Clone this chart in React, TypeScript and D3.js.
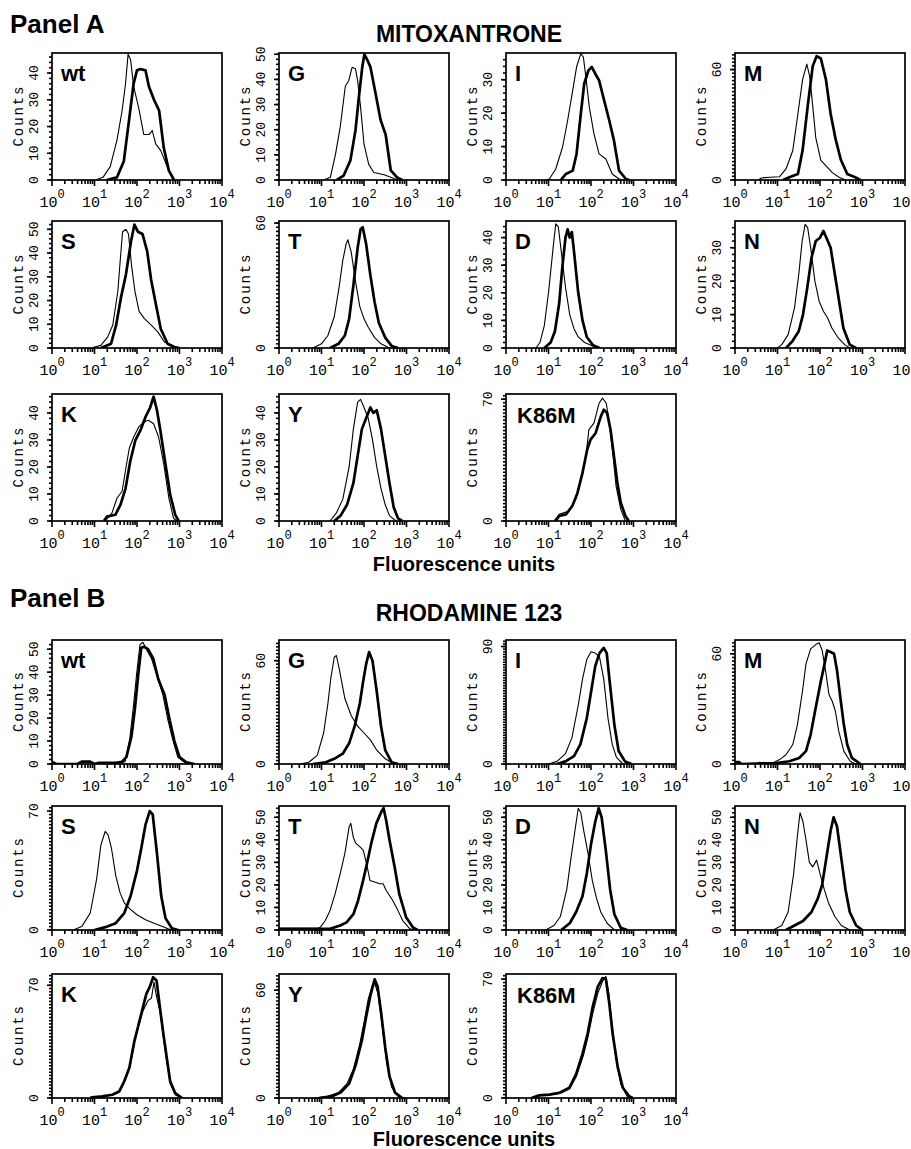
import * as d3 from "d3";
import React from "react";

type Pt = [number, number]; // [log10 fluorescence, counts]

// ---------- Panel A : mitoxantrone ----------
const A_WT_THIN: Pt[] = [[1.02,0],[1.2,1],[1.37,5],[1.53,15],[1.65,26],[1.73,36],[1.79,47],[1.85,45],[1.92,35],[2.04,27],[2.16,17],[2.28,17],[2.36,18.5],[2.44,13.5],[2.56,11],[2.71,5],[2.87,0]];
const A_WT_THICK: Pt[] = [[1.29,0],[1.53,1],[1.69,7],[1.81,22],[1.92,36],[2.0,41],[2.08,41.5],[2.2,41],[2.28,35],[2.4,30],[2.52,26],[2.63,12],[2.75,3.5],[2.87,0]];
const A_G_THIN: Pt[] = [[1.05,0],[1.21,1.1],[1.33,10.3],[1.44,21],[1.52,31.8],[1.56,37.3],[1.64,39.5],[1.72,44.8],[1.8,44.2],[1.85,39.5],[1.92,29],[2.0,14.3],[2.11,6.3],[2.23,3],[2.47,2.1],[2.63,1.1],[2.79,0]];
const A_G_THICK: Pt[] = [[1.36,0],[1.52,1.7],[1.68,7.8],[1.8,19.8],[1.88,33],[1.96,45],[2.01,50],[2.07,48],[2.15,45],[2.27,34.6],[2.39,23.9],[2.51,18],[2.63,3.8],[2.78,1],[2.9,0]];
const A_I_THIN: Pt[] = [[0.95,0],[1.02,0.3],[1.17,3.3],[1.33,9.8],[1.45,17.8],[1.57,26.8],[1.66,33.8],[1.76,37.8],[1.82,36.8],[1.88,30.8],[1.96,21.8],[2.07,13.8],[2.19,7.8],[2.35,6.3],[2.5,1.8],[2.66,0.3],[2.75,0]];
const A_I_THICK: Pt[] = [[1.29,0],[1.41,1.8],[1.57,2.8],[1.66,7.8],[1.76,19.8],[1.84,28.8],[1.94,32.8],[2.02,33.8],[2.1,31.8],[2.19,29.8],[2.31,23.8],[2.43,17.8],[2.54,11.8],[2.66,2.8],[2.82,0.3],[2.9,0]];
const A_M_THIN: Pt[] = [[0.55,0],[0.62,1.1],[0.82,1.5],[1.05,1.8],[1.2,6],[1.36,16],[1.48,36],[1.59,54.5],[1.69,63],[1.76,56],[1.83,40],[1.9,23],[2.02,10.6],[2.17,7],[2.29,4],[2.45,1.5],[2.6,0]];
const A_M_THICK: Pt[] = [[1.13,0],[1.28,1.5],[1.48,3.3],[1.59,16],[1.71,40],[1.83,62],[1.92,67.3],[2.02,66],[2.14,54.5],[2.25,36],[2.37,21.9],[2.49,11],[2.64,3.3],[2.83,1.5],[2.95,0]];
const A_S_THIN: Pt[] = [[0.95,0],[1.0,0.4],[1.15,1.1],[1.31,4.7],[1.43,9.7],[1.55,24],[1.61,38],[1.66,49],[1.74,50],[1.8,48],[1.87,35],[1.95,24],[2.05,15.4],[2.17,12.5],[2.33,9.7],[2.49,6.8],[2.64,2.6],[2.88,0]];
const A_S_THICK: Pt[] = [[1.15,0],[1.39,1.8],[1.51,9.7],[1.62,21],[1.74,31],[1.86,45],[1.94,52],[2.02,49],[2.13,48],[2.24,40.7],[2.33,29],[2.45,17.9],[2.56,8],[2.72,1.8],[2.88,0.4],[3.0,0]];
const A_T_THIN: Pt[] = [[0.8,0],[1.0,2],[1.15,6],[1.3,15],[1.42,30],[1.5,42],[1.58,50],[1.62,52],[1.7,46],[1.8,32],[1.9,20],[2.0,14],[2.1,10],[2.25,5],[2.4,2],[2.6,0]];
const A_T_THICK: Pt[] = [[1.2,0],[1.4,2],[1.55,6],[1.65,14],[1.75,30],[1.85,48],[1.92,57],[1.97,58],[2.05,50],[2.15,35],[2.25,22],[2.35,12],[2.5,5],[2.65,1],[2.8,0]];
const A_D_THIN: Pt[] = [[0.7,0],[0.8,2],[0.9,8],[1.0,20],[1.1,35],[1.17,45],[1.23,44],[1.3,35],[1.4,22],[1.5,12],[1.6,7],[1.7,4],[1.85,2],[2.0,1],[2.15,0]];
const A_D_THICK: Pt[] = [[0.9,0],[1.05,2],[1.15,6],[1.25,16],[1.33,30],[1.4,40],[1.45,43],[1.5,40],[1.55,42],[1.6,35],[1.7,20],[1.8,10],[1.9,4],[2.05,1],[2.2,0]];
const A_N_THIN: Pt[] = [[1.0,0],[1.1,1],[1.25,4],[1.4,12],[1.5,22],[1.58,32],[1.65,37],[1.71,36],[1.78,30],[1.88,20],[1.98,14],[2.08,11],[2.18,9],[2.28,6],[2.43,3],[2.58,1],[2.7,0]];
const A_N_THICK: Pt[] = [[1.2,0],[1.35,2],[1.5,5],[1.6,10],[1.7,18],[1.8,27],[1.9,32],[2.0,33],[2.08,35],[2.15,33],[2.25,30],[2.35,22],[2.45,14],[2.55,6],[2.7,1],[2.85,0]];
const A_K_THIN: Pt[] = [[1.25,0],[1.41,2.9],[1.53,8.5],[1.65,11],[1.74,19.8],[1.82,27],[1.92,31],[2.04,34.8],[2.16,36.6],[2.27,37.3],[2.39,36],[2.51,31],[2.63,21],[2.75,8.5],[2.86,1],[2.94,0]];
const A_K_THICK: Pt[] = [[1.22,0],[1.29,1.6],[1.49,2.3],[1.61,6],[1.73,12],[1.84,22],[1.96,29.8],[2.08,33.5],[2.2,38.5],[2.31,42],[2.39,46],[2.47,41],[2.55,33.5],[2.67,21],[2.78,9.8],[2.9,2.3],[2.98,0]];
const A_Y_THIN: Pt[] = [[1.2,0],[1.35,3],[1.5,8],[1.65,20],[1.75,34],[1.85,44],[1.92,45],[2.0,42],[2.1,38],[2.2,30],[2.3,20],[2.4,12],[2.5,6],[2.6,2],[2.75,0]];
const A_Y_THICK: Pt[] = [[1.3,0],[1.45,2],[1.6,6],[1.75,14],[1.85,24],[1.95,34],[2.05,38],[2.15,42],[2.22,40],[2.3,41],[2.4,34],[2.5,24],[2.6,14],[2.7,5],[2.8,1],[2.9,0]];
const A_K86M_THIN: Pt[] = [[1.13,0],[1.25,3.8],[1.48,5.7],[1.64,12.4],[1.76,23.8],[1.88,37.2],[1.95,52.5],[2.07,56.3],[2.19,67.7],[2.27,70.6],[2.36,67.7],[2.44,54.4],[2.52,37.2],[2.59,20],[2.7,6.7],[2.81,0]];
const A_K86M_THICK: Pt[] = [[1.17,0],[1.25,2.9],[1.41,3.8],[1.56,8.6],[1.68,16],[1.8,27.7],[1.91,41],[1.99,46.8],[2.11,50.6],[2.23,60],[2.3,64],[2.38,62],[2.46,52.5],[2.54,37.2],[2.62,22],[2.7,10.5],[2.81,2.9],[2.89,0]];

// ---------- Panel B : rhodamine 123 ----------
const B_WT_THIN: Pt[] = [[1.5,0],[1.72,1],[1.83,11],[1.91,24],[1.99,39],[2.07,52],[2.14,53],[2.22,50],[2.34,46],[2.46,39],[2.61,30],[2.73,19],[2.85,10],[2.96,3],[3.12,0.7],[3.25,0]];
const B_WT_THICK: Pt[] = [[0,1],[0.05,0.5],[0.1,0],[0.6,0],[0.7,1],[0.9,1],[1.0,0],[1.1,0.5],[1.5,0.5],[1.65,1],[1.75,3],[1.87,12],[1.95,24],[2.03,39],[2.1,50.7],[2.17,51],[2.26,50],[2.38,46],[2.5,37],[2.65,30],[2.77,19],[2.88,10],[3.0,3],[3.16,0.7],[3.35,0]];
const B_G_THIN: Pt[] = [[0.5,0],[0.7,1],[0.9,5],[1.05,18],[1.15,35],[1.22,50],[1.3,62],[1.35,63],[1.42,55],[1.55,38],[1.7,28],[1.85,22],[2.0,18],[2.15,14],[2.3,8],[2.5,3],[2.7,0]];
const B_G_THICK: Pt[] = [[0.8,0],[1.1,1],[1.3,3],[1.5,6],[1.65,12],[1.78,22],[1.9,35],[1.98,48],[2.05,58],[2.12,65],[2.2,60],[2.3,42],[2.4,22],[2.5,8],[2.65,1],[2.8,0]];
const B_I_THIN: Pt[] = [[1.0,0],[1.2,2],[1.4,8],[1.55,20],[1.7,45],[1.8,65],[1.9,80],[2.0,86],[2.1,85],[2.2,82],[2.3,65],[2.4,35],[2.5,15],[2.6,5],[2.75,0]];
const B_I_THICK: Pt[] = [[1.2,0],[1.4,2],[1.6,6],[1.75,15],[1.9,35],[2.0,55],[2.1,75],[2.2,85],[2.3,89],[2.37,85],[2.45,60],[2.55,30],[2.65,10],[2.8,2],[2.95,0]];
const B_M_THIN: Pt[] = [[0.5,0],[0.58,1],[0.7,0],[0.89,0.5],[1.05,2.4],[1.2,5],[1.36,10.6],[1.47,21.6],[1.59,40],[1.67,54.5],[1.78,62.7],[1.9,65],[1.98,66],[2.05,62],[2.13,51],[2.21,38],[2.29,34],[2.36,29],[2.44,18],[2.56,7],[2.71,1.5],[2.83,0]];
const B_M_THICK: Pt[] = [[0,1],[0.1,1],[0.15,0],[0.97,0.5],[1.28,1.5],[1.51,3.3],[1.67,7],[1.78,16],[1.9,30.7],[2.02,45],[2.09,52.6],[2.17,61.8],[2.25,61],[2.33,60],[2.4,51],[2.48,36],[2.56,21.6],[2.64,10.6],[2.75,3.3],[2.95,0]];
const B_S_THIN: Pt[] = [[0.5,0],[0.7,2],[0.9,10],[1.05,30],[1.15,50],[1.25,58],[1.32,56],[1.4,48],[1.5,32],[1.6,22],[1.7,16],[1.85,12],[2.0,9],[2.2,6],[2.4,4],[2.6,2],[2.8,0]];
const B_S_THICK: Pt[] = [[1.0,0],[1.3,2],[1.5,4],[1.7,10],[1.85,20],[2.0,35],[2.1,48],[2.2,62],[2.3,70],[2.37,68],[2.47,45],[2.57,20],[2.67,7],[2.82,1],[2.97,0]];
const B_T_THIN: Pt[] = [[0,0.7],[0.9,0.7],[0.97,1.2],[1.09,4.2],[1.2,8.6],[1.32,16],[1.44,25],[1.55,34],[1.65,45.8],[1.69,47.3],[1.75,41],[1.81,38.4],[1.9,37],[1.98,35.4],[2.06,29.5],[2.14,22],[2.25,21.3],[2.37,20.5],[2.45,20.5],[2.52,17.6],[2.68,13],[2.8,8.6],[2.91,4.2],[3.07,0.7],[3.18,0]];
const B_T_THICK: Pt[] = [[0,0.5],[1.2,0.5],[1.44,2],[1.59,3.4],[1.75,7],[1.86,13],[1.98,22],[2.07,29.5],[2.17,38.4],[2.29,47.3],[2.41,52.5],[2.46,54],[2.52,48.8],[2.6,39.9],[2.72,28],[2.83,16],[2.99,5.7],[3.15,1.2],[3.26,0]];
const B_D_THIN: Pt[] = [[0.93,0],[1.13,2],[1.28,6],[1.43,18],[1.53,32],[1.63,45],[1.7,54],[1.76,52],[1.83,44],[1.93,34],[2.03,22],[2.13,14],[2.23,8],[2.38,3],[2.55,0]];
const B_D_THICK: Pt[] = [[1.3,0],[1.5,3],[1.65,8],[1.8,15],[1.9,25],[2.0,38],[2.1,48],[2.18,54],[2.25,50],[2.35,35],[2.45,18],[2.55,7],[2.7,1],[2.85,0]];
const B_N_THIN: Pt[] = [[0.9,0],[1.1,2],[1.25,8],[1.38,25],[1.47,42],[1.53,52],[1.6,48],[1.67,40],[1.75,30],[1.83,28],[1.92,31],[2.0,25],[2.1,18],[2.2,12],[2.35,6],[2.5,2],[2.7,0]];
const B_N_THICK: Pt[] = [[1.2,0],[1.4,2],[1.6,4],[1.8,8],[1.95,14],[2.05,20],[2.15,32],[2.25,44],[2.32,50],[2.4,46],[2.5,32],[2.6,18],[2.7,8],[2.85,2],[3.0,0]];
const B_K_THIN: Pt[] = [[1.0,0],[1.2,1],[1.42,2],[1.6,4.5],[1.72,11],[1.84,20],[1.95,36],[2.04,45],[2.14,54],[2.26,60.5],[2.34,62],[2.4,72],[2.46,63],[2.54,54],[2.62,38],[2.7,23],[2.78,9],[2.9,2],[3.04,0]];
const B_K_THICK: Pt[] = [[0.9,0],[0.94,0.4],[1.18,1],[1.42,2],[1.58,4],[1.7,10.4],[1.82,18.8],[1.94,35.5],[2.02,43.8],[2.14,56.4],[2.22,64.7],[2.3,69],[2.38,75],[2.46,73],[2.54,56],[2.62,40],[2.7,25],[2.78,10.4],[2.9,3],[3.06,0]];
const B_Y_THIN: Pt[] = [[0.85,0],[1.15,1],[1.4,3],[1.6,8],[1.75,16],[1.9,30],[2.0,42],[2.1,55],[2.2,63],[2.25,64],[2.33,58],[2.43,40],[2.53,20],[2.65,6],[2.8,1],[2.95,0]];
const B_Y_THICK: Pt[] = [[0.95,0],[1.25,1],[1.45,3],[1.65,8],[1.8,18],[1.95,32],[2.05,45],[2.15,57],[2.25,66],[2.32,62],[2.4,48],[2.5,28],[2.6,12],[2.73,3],[2.9,0]];
const B_K86M_THIN: Pt[] = [[0.7,0],[0.8,1.5],[1.05,2],[1.3,3],[1.5,5.5],[1.66,13],[1.82,25],[1.93,36],[2.04,49.7],[2.16,61.6],[2.27,68.6],[2.35,71.6],[2.42,61.6],[2.49,43.7],[2.58,25],[2.7,8],[2.85,1],[2.95,0]];
const B_K86M_THICK: Pt[] = [[0.6,0],[0.78,1.6],[1.02,2],[1.25,3],[1.49,6],[1.65,14],[1.8,26],[1.92,37.8],[2.04,53.7],[2.16,65.6],[2.27,70.6],[2.35,70],[2.43,55.7],[2.51,37.8],[2.63,18],[2.75,6],[2.9,1],[2.98,0]];

// panel labels, y-axis max and labelled y ticks (row-major, 4 columns)
const LABELS = ["wt", "G", "I", "M", "S", "T", "D", "N", "K", "Y", "K86M"];
const A_YMAX = [47.5, 50.5, 38, 69, 53.5, 61, 46, 38, 47, 47, 73];
const A_YTICKS = [[0,10,20,30,40],[0,10,20,30,40,50],[0,10,20,30],[0,60],[0,10,20,30,40,50],[0,60],[0,10,20,30,40],[0,10,20,30],[0,10,20,30,40],[0,10,20,30,40],[0,70]];
const A_THIN = [A_WT_THIN, A_G_THIN, A_I_THIN, A_M_THIN, A_S_THIN, A_T_THIN, A_D_THIN, A_N_THIN, A_K_THIN, A_Y_THIN, A_K86M_THIN];
const A_THICK = [A_WT_THICK, A_G_THICK, A_I_THICK, A_M_THICK, A_S_THICK, A_T_THICK, A_D_THICK, A_N_THICK, A_K_THICK, A_Y_THICK, A_K86M_THICK];
const B_YMAX = [54, 72, 95, 67.5, 73, 55, 55, 55, 77, 69, 73];
const B_YTICKS = [[0,10,20,30,40,50],[0,60],[0,90],[0,60],[0,70],[0,10,20,30,40,50],[0,10,20,30,40,50],[0,10,20,30,40,50],[0,70],[0,60],[0,70]];
const B_THIN = [B_WT_THIN, B_G_THIN, B_I_THIN, B_M_THIN, B_S_THIN, B_T_THIN, B_D_THIN, B_N_THIN, B_K_THIN, B_Y_THIN, B_K86M_THIN];
const B_THICK = [B_WT_THICK, B_G_THICK, B_I_THICK, B_M_THICK, B_S_THICK, B_T_THICK, B_D_THICK, B_N_THICK, B_K_THICK, B_Y_THICK, B_K86M_THICK];

const COLS = [52, 279, 506, 735];
const FW = 170;
const MONO = "'Liberation Mono', 'DejaVu Sans Mono', monospace";
const SANS = "'Liberation Sans', Arial, sans-serif";

const Histo = ({ id, x0, y0, h, label, ymax, yticks, thin, thick }) => {
  const xs = d3.scaleLog().domain([1, 1e4]).range([0, FW]);
  const ys = d3.scaleLinear().domain([0, ymax]).range([h, 0]);
  const line = d3.line<Pt>().x((d) => xs(10 ** d[0])).y((d) => ys(d[1]));
  const xTicks = xs.ticks();
  const majors = [1, 10, 100, 1000, 10000];
  const yMinor = d3.range(0, ymax, 2);

  return (
    <g transform={`translate(${x0},${y0})`}>
      <clipPath id={id}>
        <rect x={0} y={-2} width={FW} height={h + 2} />
      </clipPath>
      <g clipPath={`url(#${id})`} fill="none" stroke="#000" strokeLinejoin="round">
        <path d={line(thin)} strokeWidth={1.1} />
        <path d={line(thick)} strokeWidth={2.7} />
      </g>
      <rect width={FW} height={h} fill="none" stroke="#000" strokeWidth={1.7} />
      {/* ticks */}
      <g stroke="#000" strokeWidth={1.6}>
        {xTicks.map((t, i) => (
          <line key={i} x1={xs(t)} x2={xs(t)} y1={h} y2={h + (majors.includes(t) ? 6 : 4)} />
        ))}
        {yMinor.map((t, i) => (
          <line key={"m" + i} x1={0} x2={-3} y1={ys(t)} y2={ys(t)} />
        ))}
        {yticks.map((t, i) => (
          <line key={"M" + i} x1={0} x2={-5} y1={ys(t)} y2={ys(t)} />
        ))}
      </g>
      {majors.map((t, i) => (
        <text key={i} x={xs(t)} y={h + 27} textAnchor="middle" fontFamily={MONO} fontSize={15}>
          10<tspan dy={-9} fontSize={12}>{i}</tspan>
        </text>
      ))}
      {yticks.map((t, i) => (
        <text key={i} transform={`translate(-14,${ys(t)}) rotate(-90)`} textAnchor="middle" fontFamily={MONO} fontSize={13}>
          {t}
        </text>
      ))}
      <text transform={`translate(-29,${h / 2}) rotate(-90)`} textAnchor="middle" fontFamily={MONO} fontSize={14} textLength={60} lengthAdjust="spacing">
        Counts
      </text>
      <text x={label === "K86M" ? 11 : 9} y={label === "K86M" ? 29 : 28} fontFamily={SANS} fontWeight="bold" fontSize={22}>
        {label}
      </text>
    </g>
  );
};

const Block = ({ prefix, rows, h, ymaxes, yticks, thins, thicks }) => (
  <g>
    {LABELS.map((lab, i) => (
      <Histo
        key={lab}
        id={`${prefix}${i}`}
        x0={COLS[i % 4]}
        y0={rows[Math.floor(i / 4)]}
        h={h}
        label={lab}
        ymax={ymaxes[i]}
        yticks={yticks[i]}
        thin={thins[i]}
        thick={thicks[i]}
      />
    ))}
  </g>
);

export default function App() {
  return (
    <svg width={911} height={1149} style={{ position: "absolute", left: 0, top: 0, background: "#fff" }}>
      <rect width={911} height={1149} fill="#fff" />
      <text x={10} y={33} fontFamily={SANS} fontWeight="bold" fontSize={26}>Panel A</text>
      <text x={469} y={42} textAnchor="middle" fontFamily={SANS} fontWeight="bold" fontSize={23}>MITOXANTRONE</text>
      <Block prefix="ca" rows={[53, 221, 394]} h={127} ymaxes={A_YMAX} yticks={A_YTICKS} thins={A_THIN} thicks={A_THICK} />
      <text x={464} y={571} textAnchor="middle" fontFamily={SANS} fontWeight="bold" fontSize={20}>Fluorescence units</text>

      <text x={10} y={607} fontFamily={SANS} fontWeight="bold" fontSize={26}>Panel B</text>
      <text x={469} y={621} textAnchor="middle" fontFamily={SANS} fontWeight="bold" fontSize={23}>RHODAMINE 123</text>
      <Block prefix="cb" rows={[640, 806, 974]} h={124} ymaxes={B_YMAX} yticks={B_YTICKS} thins={B_THIN} thicks={B_THICK} />
      <text x={464} y={1146} textAnchor="middle" fontFamily={SANS} fontWeight="bold" fontSize={20}>Fluorescence units</text>
    </svg>
  );
}
